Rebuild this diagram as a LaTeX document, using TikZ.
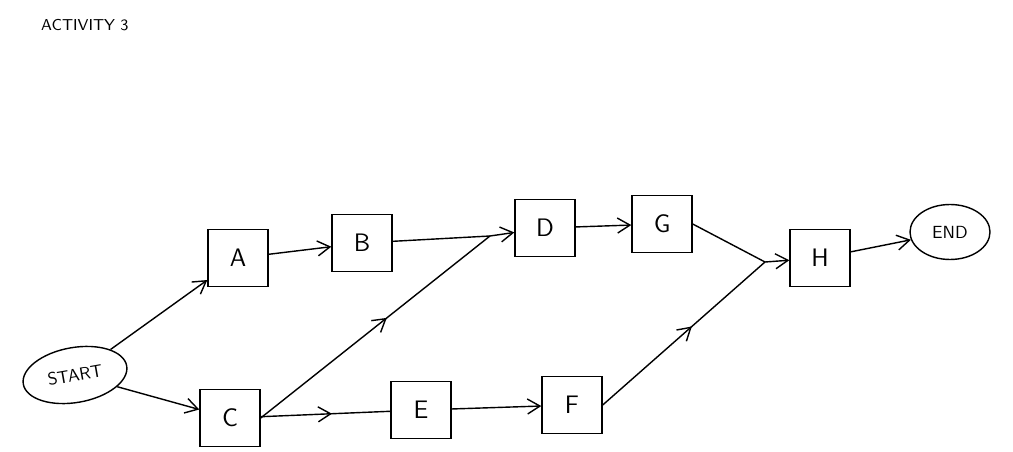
\documentclass[tikz,border=0pt]{standalone}
\usetikzlibrary{arrows.meta,decorations.markings,shapes.geometric}
\begin{document}
\begin{tikzpicture}[x=0.02cm,y=-0.02cm,
  box/.style={draw,thick,minimum width=1.2cm,minimum height=1.15cm,font=\Large\sffamily},
  oval/.style={draw,thick,ellipse,font=\sffamily},
  arr/.style={thick,-{Straight Barb[length=2.5mm,width=3mm]}},
  ln/.style={thick},
  mid/.style={thick,postaction={decorate},decoration={markings,mark=at position 0.55 with {\arrow{Straight Barb[length=2.5mm,width=3mm]}}}}]
\useasboundingbox (0,0) rectangle (1013,452);
\node[font=\sffamily\small,anchor=west] (title) at (35,25) {ACTIVITY 3};
\node[oval,minimum width=2.1cm,minimum height=1.1cm,rotate=10] (start) at (75,375) {START};
\node[oval,minimum width=1.6cm,minimum height=1.1cm] (end) at (950,232) {END};
\node[box] (A) at (238,258) {A};
\node[box] (B) at (362,243) {B};
\node[box] (D) at (545,228) {D};
\node[box] (G) at (662,224) {G};
\node[box] (H) at (820,258) {H};
\node[box] (C) at (230,418) {C};
\node[box] (E) at (421,410) {E};
\node[box] (F) at (572,405) {F};
\coordinate (m1) at (490,236);
\coordinate (m2) at (765,262);
\draw[arr] (start) -- (A);
\draw[arr] (start) -- (C);
\draw[arr] (A) -- (B);
\draw[ln] (B) -- (m1);
\draw[mid] (C.east) -- (m1);
\draw[arr] (m1) -- (D);
\draw[arr] (D) -- (G);
\draw[mid] (C) -- (E);
\draw[arr] (E) -- (F);
\draw[mid] (F.east) -- (m2);
\draw[ln] (G.east) -- (m2);
\draw[arr] (m2) -- (H);
\draw[arr] (H) -- (end);
\end{tikzpicture}
\end{document}
